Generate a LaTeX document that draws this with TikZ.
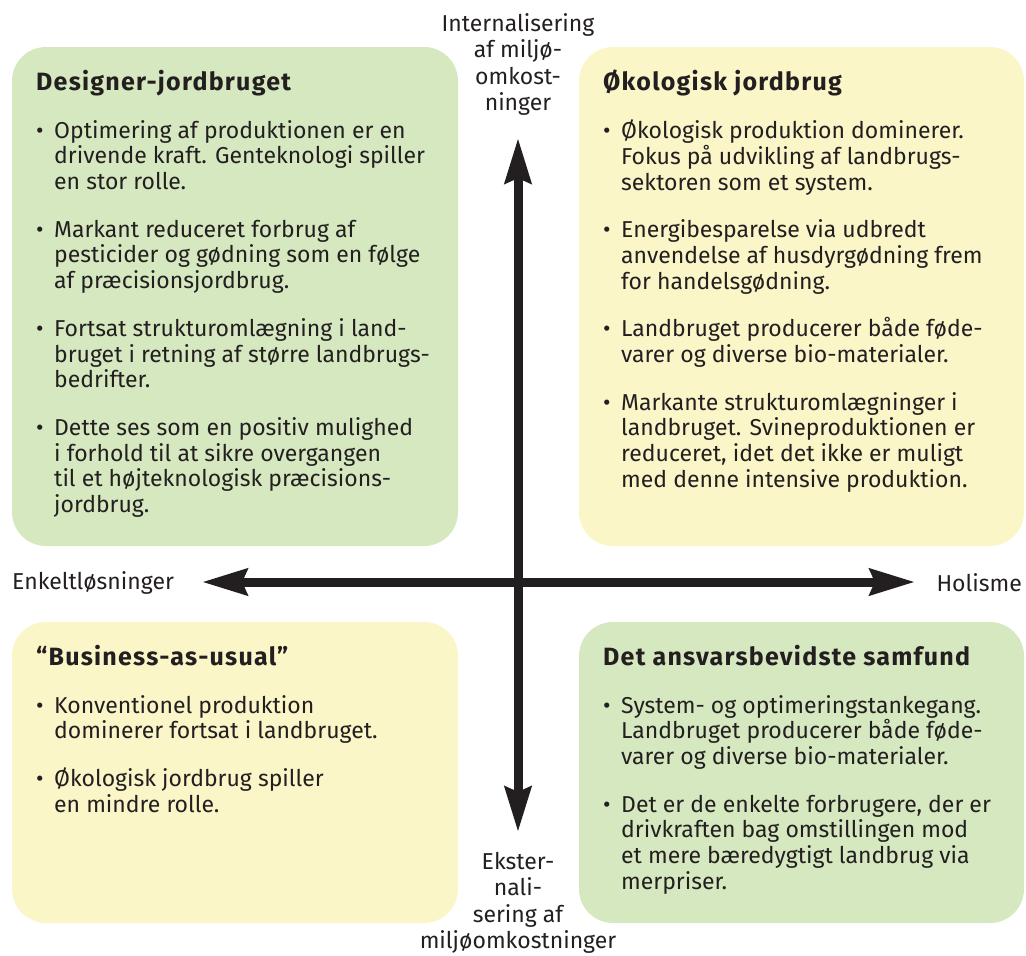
\documentclass[tikz,border=0pt]{standalone}
\usepackage{fontspec}
\setmainfont{Fira Sans}
\newfontfamily\headfont{Fira Sans}[LetterSpace=5]
\usetikzlibrary{arrows.meta,positioning}
\definecolor{ink}{HTML}{231F20}
\definecolor{leaf}{HTML}{D6E8BF}
\definecolor{straw}{HTML}{FAF6C8}
\newcommand{\bl}{\makebox[18pt][l]{\textbullet}}
\newcommand{\cl}{\hspace*{18pt}}
\newcommand{\gap}{\\[22pt]}
\newcommand{\head}[1]{{\headfont\bfseries\fontsize{25}{25.7}\selectfont #1}}
\tikzset{
  panel/.style={rounded corners=34pt},
  body/.style={anchor=north west, align=left, inner sep=0pt, text=ink,
    font=\fontsize{23}{25.7}\selectfont},
  axislabel/.style={align=center, inner sep=0pt, text=ink,
    font=\fontsize{23}{26.5}\selectfont},
  axis/.style={line width=9pt, draw=ink,
    {Stealth[length=45pt,width=26pt,inset=5pt]}-{Stealth[length=45pt,width=26pt,inset=5pt]}}
}
\begin{document}
\begin{tikzpicture}[x=1pt,y=-1pt]
    \useasboundingbox (0,0) rectangle (1026,956);

    % panels
    \fill[leaf, panel] (12,47) rectangle (458,546);
    \fill[straw, panel] (579,47) rectangle (1024,546);
    \fill[straw, panel] (12,622) rectangle (458,923);
    \fill[leaf, panel] (579,622) rectangle (1024,923);

    % axes
    \coordinate (top) at (518,138);
    \coordinate (bottom) at (518,832);
    \coordinate (left) at (202,582);
    \coordinate (right) at (915,582);
    \draw[axis] (bottom) -- (top);
    \draw[axis] (left) -- (right);

    \node[axislabel, anchor=north] (internal) at (518,13)
        {Internalisering\\af miljø-\\omkost-\\ninger};
    \node[axislabel, anchor=north] (external) at (518,852)
        {Ekster-\\nali-\\sering af\\miljøomkostninger};
    \node[axislabel, anchor=west] (single) at (12,583) {Enkeltløsninger};
    \node[axislabel, anchor=east] (holism) at (1022,583) {Holisme};

    % scenarios
    \node[body] (designer) at (36,70) {%
        \head{Designer-jordbruget}\gap
        \bl Optimering af produktionen er en\\
        \cl drivende kraft. Genteknologi spiller\\
        \cl en stor rolle.\gap
        \bl Markant reduceret forbrug af\\
        \cl pesticider og gødning som en følge\\
        \cl af præcisionsjordbrug.\gap
        \bl Fortsat strukturomlægning i land-\\
        \cl bruget i retning af større landbrugs-\\
        \cl bedrifter.\gap
        \bl Dette ses som en positiv mulighed\\
        \cl i forhold til at sikre overgangen\\
        \cl til et højteknologisk præcisions-\\
        \cl jordbrug.};
    \node[body] (organic) at (603,70) {%
        \head{Økologisk jordbrug}\gap
        \bl Økologisk produktion dominerer.\\
        \cl Fokus på udvikling af landbrugs-\\
        \cl sektoren som et system.\gap
        \bl Energibesparelse via udbredt\\
        \cl anvendelse af husdyrgødning frem\\
        \cl for handelsgødning.\gap
        \bl Landbruget producerer både føde-\\
        \cl varer og diverse bio-materialer.\gap
        \bl Markante strukturomlægninger i\\
        \cl landbruget. Svineproduktionen er\\
        \cl reduceret, idet det ikke er muligt\\
        \cl med denne intensive produktion.};
    \node[body] (usual) at (36,645) {%
        \head{“Business-as-usual”}\gap
        \bl Konventionel produktion\\
        \cl dominerer fortsat i landbruget.\gap
        \bl Økologisk jordbrug spiller\\
        \cl en mindre rolle.};
    \node[body] (responsible) at (603,645) {%
        \head{Det ansvarsbevidste samfund}\gap
        \bl System- og optimeringstankegang.\\
        \cl Landbruget producerer både føde-\\
        \cl varer og diverse bio-materialer.\gap
        \bl Det er de enkelte forbrugere, der er\\
        \cl drivkraften bag omstillingen mod\\
        \cl et mere bæredygtigt landbrug via\\
        \cl merpriser.};
\end{tikzpicture}
\end{document}
